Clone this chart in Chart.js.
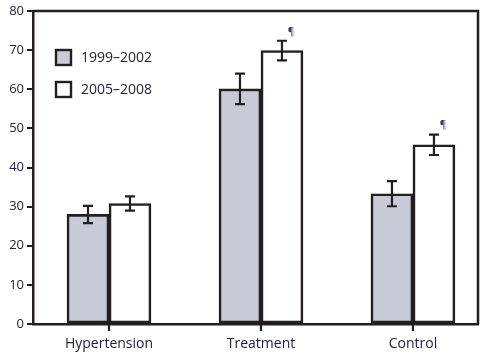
<!DOCTYPE html>
<html><head><meta charset="utf-8">
<script src="https://cdn.jsdelivr.net/npm/chart.js@4"></script>
<style>html,body{margin:0;padding:0;background:#fff}#wrap{width:492px;height:356px}</style>
</head><body><div id="wrap"><canvas id="c"></canvas></div>
<script>
const categories = ["Hypertension", "Treatment", "Control"];
const seriesLabels = ["1999\u20132002", "2005\u20132008"];
const values1999 = [28.0, 60.1, 33.3];
const values2005 = [30.8, 69.9, 45.8];
const err1999 = [2.2, 3.9, 3.2];
const err2005 = [1.8, 2.5, 2.6];
const significant2005 = [false, true, true];
const yTicks = [0, 10, 20, 30, 40, 50, 60, 70, 80];

const INK = '#231f20';
const FONT = '"Open Sans", "DejaVu Sans", sans-serif';

const pts = (vals) => vals.map((v, i) => ({x: i, y: v}));

const errorPlugin = {
  id: 'errs',
  afterDatasetsDraw(chart) {
    const ctx = chart.ctx;
    const ys = chart.scales.y;
    const errs = [err1999, err2005];
    chart.data.datasets.forEach((ds, di) => {
      const meta = chart.getDatasetMeta(di);
      meta.data.forEach((bar, i) => {
        const v = ds.data[i].y, e = errs[di][i];
        const x = bar.x;
        const yt = ys.getPixelForValue(v + e), yb = ys.getPixelForValue(v - e);
        ctx.save();
        ctx.strokeStyle = INK; ctx.lineWidth = 2.2;
        ctx.beginPath();
        ctx.moveTo(x, yt); ctx.lineTo(x, yb);
        ctx.moveTo(x - 5, yt); ctx.lineTo(x + 5, yt);
        ctx.moveTo(x - 5, yb); ctx.lineTo(x + 5, yb);
        ctx.stroke();
        if (di === 1 && significant2005[i]) {
          ctx.fillStyle = '#3a3366';
          ctx.font = '10px ' + FONT;
          ctx.textAlign = 'center'; ctx.textBaseline = 'middle';
          ctx.fillText('\u00b6', x + 9, yt - 9);
        }
        ctx.restore();
      });
    });
  },
  afterDraw(chart) {
    const ctx = chart.ctx, a = chart.chartArea;
    const xs = chart.scales.x;
    ctx.save();
    ctx.strokeStyle = INK; ctx.lineWidth = 2.5;
    ctx.beginPath();
    ctx.moveTo(a.left, a.top); ctx.lineTo(a.right, a.top); ctx.lineTo(a.right, a.bottom);
    ctx.stroke();
    // x tick marks
    ctx.lineWidth = 2.2;
    ctx.beginPath();
    xs.ticks.forEach(t => {
      const px = xs.getPixelForValue(t.value);
      ctx.moveTo(px, a.bottom); ctx.lineTo(px, a.bottom + 7);
    });
    ctx.stroke();
    // legend
    const fills = ['#c9cad8', '#ffffff'];
    ctx.font = '14px ' + FONT;
    ctx.textBaseline = 'middle'; ctx.textAlign = 'left';
    seriesLabels.forEach((lab, k) => {
      const bx = a.left + 23, by = a.top + 39 + k * 32;
      ctx.fillStyle = fills[k];
      ctx.fillRect(bx, by, 15, 15);
      ctx.lineWidth = 2.4; ctx.strokeStyle = INK;
      ctx.strokeRect(bx, by, 15, 15);
      ctx.fillStyle = '#23203a';
      ctx.fillText(lab, bx + 25, by + 8);
    });
    ctx.restore();
  }
};

new Chart(document.getElementById('c'), {
  type: 'bar',
  data: {
    datasets: [
      {label: seriesLabels[0], data: pts(values1999), backgroundColor: '#c9cad8', borderColor: INK, borderWidth: 2.6, borderSkipped: false, barThickness: 42},
      {label: seriesLabels[1], data: pts(values2005), backgroundColor: '#ffffff', borderColor: INK, borderWidth: 2.6, borderSkipped: false, barThickness: 42}
    ]
  },
  options: {
    responsive: true, maintainAspectRatio: false, animation: false,
    layout: {padding: {top: 11, right: 14, left: 0, bottom: 0}},
    plugins: {legend: {display: false}, tooltip: {enabled: false}},
    scales: {
      x: {
        type: 'linear', min: -0.5, max: 2.428, offset: false,
        afterBuildTicks: (s) => { s.ticks = categories.map((c, i) => ({value: i})); },
        afterFit: (s) => { s.height = 32; },
        ticks: {callback: (v) => categories[v], color: '#23203a', font: {family: FONT, size: 14}, padding: 6, maxRotation: 0, autoSkip: false},
        grid: {display: true, offset: false, drawOnChartArea: false, color: INK, lineWidth: 2, tickColor: INK, tickLength: 6, tickWidth: 2},
        border: {display: true, color: INK, width: 2.5}
      },
      y: {
        min: 0, max: 80,
        afterBuildTicks: (s) => { s.ticks = yTicks.map(v => ({value: v})); },
        afterFit: (s) => { s.width = 33; },
        ticks: {color: '#23203a', font: {family: FONT, size: 13}, padding: 3},
        grid: {drawOnChartArea: false, color: INK, lineWidth: 2, tickLength: 6, tickWidth: 2},
        border: {color: INK, width: 2.5}
      }
    }
  },
  plugins: [errorPlugin]
});
</script></body></html>
